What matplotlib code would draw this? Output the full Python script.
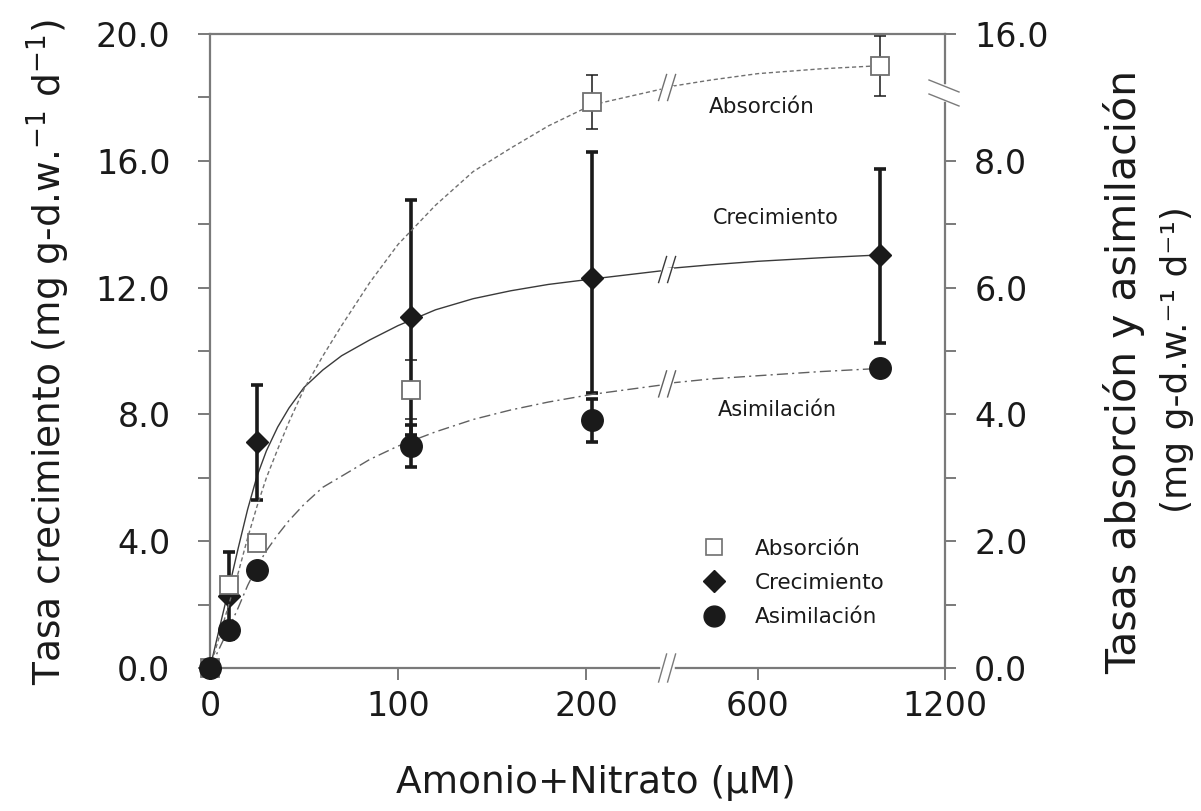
import numpy as np
import matplotlib
matplotlib.use("Agg")
import matplotlib.pyplot as plt
from matplotlib.lines import Line2D
from matplotlib.ticker import FixedLocator, FixedFormatter, FormatStrFormatter

# ---------------- data ----------------
conc = [0, 10, 25, 107, 203, 990]                       # Amonio+Nitrato (uM)
crecimiento = [0.0, 2.28, 7.14, 11.06, 12.29, 13.03]    # left axis
crec_err_lo = [0.0, 1.37, 1.85, 3.70, 3.60, 2.79]
crec_err_hi = [0.0, 1.37, 1.80, 3.70, 4.00, 2.71]
absorcion = [0.0, 1.31, 1.97, 4.39, 11.72, 13.98]       # right axis
absor_err = [0.0, 0.0, 0.0, 0.47, 1.70, 1.88]
asimilacion = [0.0, 0.60, 1.55, 3.50, 3.91, 4.73]       # right axis
asim_err = [0.0, 0.0, 0.0, 0.33, 0.34, 0.0]

# fitted curves
fit_x = [0, 5, 10, 15, 20, 25, 30, 36, 42, 50, 60, 70, 85, 100, 120, 140, 160, 180,
         203, 243, 310, 450, 600, 800, 990]
fit_crec = [0, 1.25, 2.5, 3.78, 5.0, 6.05, 6.85, 7.6, 8.2, 8.85, 9.4, 9.85, 10.35,
            10.8, 11.3, 11.65, 11.9, 12.1, 12.27, 12.55, 12.6, 12.72, 12.83, 12.94, 13.03]
fit_absor = [0, 0.5, 1.0, 1.5, 2.05, 2.55, 3.0, 3.45, 3.88, 4.4, 4.92, 5.4, 6.08, 6.68,
             7.3, 7.83, 8.8, 10.2, 11.52, 12.6, 12.66, 13.1, 13.5, 13.8, 14.0]
fit_asim = [0, 0.31, 0.625, 0.95, 1.3, 1.6, 1.85, 2.1, 2.325, 2.58, 2.85, 3.025, 3.29,
            3.5, 3.725, 3.92, 4.07, 4.195, 4.315, 4.475, 4.49, 4.56, 4.61, 4.675, 4.725]

x_ticks = [0, 100, 200, 600, 1200]
x_ticklabels = ["0", "100", "200", "600", "1200"]
left_ticks = [0, 4, 8, 12, 16, 20]
left_minor = [2, 6, 10, 14, 18]
right_ticks = [0, 2, 4, 6, 8, 16]
right_minor = [1, 3, 5, 7]

# ---------------- broken scales ----------------
B1, B2, U2 = 243.0, 310.0, 243.4
S2 = (391.0 - U2) / (1200.0 - B2)


def fx(x):
    x = np.asarray(x, dtype=float)
    return np.where(x <= B1, x,
                    np.where(x < B2, B1 + (x - B1) * (U2 - B1) / (B2 - B1),
                             U2 + (x - B2) * S2))


def fx_inv(u):
    u = np.asarray(u, dtype=float)
    return np.where(u <= B1, u,
                    np.where(u < U2, B1 + (u - B1) * (B2 - B1) / (U2 - B1),
                             B2 + (u - U2) / S2))


def r2u(r):
    r = np.asarray(r, dtype=float)
    return np.where(r <= 8, 2 * r, 16 + (r - 8) * 0.5)


def u2r(u):
    u = np.asarray(u, dtype=float)
    return np.where(u <= 16, u / 2, 8 + (u - 16) * 2)


W, H = 1201, 811
fig = plt.figure(figsize=(W / 100, H / 100), dpi=100)
ax = fig.add_axes([210 / W, 1 - 668 / H, 735 / W, 634 / H])
ax2 = ax.twinx()
ax.set_xscale("function", functions=(fx, fx_inv))
ax.set_xlim(0, 1200)
ax.set_ylim(0, 20)
ax2.set_yscale("function", functions=(r2u, u2r))
ax2.set_ylim(0, 16)

gray = "#7a7a7a"
ink = "#1a1a1a"

for s in ["left", "top", "bottom"]:
    ax.spines[s].set_color(gray)
    ax.spines[s].set_linewidth(1.6)
ax.spines["right"].set_visible(False)
for s in ["left", "top", "bottom"]:
    ax2.spines[s].set_visible(False)
ax2.spines["right"].set_color(gray)
ax2.spines["right"].set_linewidth(1.6)

ax.xaxis.set_major_locator(FixedLocator(x_ticks))
ax.xaxis.set_major_formatter(FixedFormatter(x_ticklabels))
ax.xaxis.set_minor_locator(FixedLocator([]))
ax.yaxis.set_major_locator(FixedLocator(left_ticks))
ax.yaxis.set_minor_locator(FixedLocator(left_minor))
ax.yaxis.set_major_formatter(FormatStrFormatter("%.1f"))
ax2.yaxis.set_major_locator(FixedLocator(right_ticks))
ax2.yaxis.set_minor_locator(FixedLocator(right_minor))
ax2.yaxis.set_major_formatter(FormatStrFormatter("%.1f"))

ax.tick_params(axis="y", which="both", direction="out", length=8.5, width=1.4,
               color=gray, labelsize=24, pad=20, labelcolor=ink)
ax.tick_params(axis="x", which="both", direction="out", length=8.5, width=1.4,
               color=gray, labelsize=24, pad=7, labelcolor=ink)
ax2.tick_params(axis="y", which="both", direction="out", length=8, width=1.4,
                color=gray, labelsize=24, pad=13, labelcolor=ink)

# ---------------- curves ----------------
ax.plot(fit_x, fit_crec, color="#3a3a3a", lw=1.0, zorder=2)
ax2.plot(fit_x, fit_absor, color="#707070", lw=1.0, dashes=(3, 2), zorder=2)
ax2.plot(fit_x, fit_asim, color="#606060", lw=1.0, dashes=(8, 3, 1.5, 3), zorder=2)

# ---------------- error bars ----------------
idx = [i for i in range(len(conc)) if crec_err_hi[i] > 0]
ax.errorbar([conc[i] for i in idx], [crecimiento[i] for i in idx],
            yerr=[[crec_err_lo[i] for i in idx], [crec_err_hi[i] for i in idx]],
            fmt="none", ecolor=ink, elinewidth=2.6, capsize=4.5, capthick=2.6, zorder=3)
idx = [i for i in range(len(conc)) if absor_err[i] > 0]
ax2.errorbar([conc[i] for i in idx], [absorcion[i] for i in idx],
             yerr=[absor_err[i] for i in idx],
             fmt="none", ecolor=ink, elinewidth=1.1, capsize=4, capthick=1.1, zorder=3)
idx = [i for i in range(len(conc)) if asim_err[i] > 0]
ax2.errorbar([conc[i] for i in idx], [asimilacion[i] for i in idx],
             yerr=[asim_err[i] for i in idx],
             fmt="none", ecolor=ink, elinewidth=2.6, capsize=4.5, capthick=2.6, zorder=3)

# ---------------- markers ----------------
ax.plot(conc, crecimiento, ls="none", marker="D", ms=11.5, mfc=ink, mec=ink,
        zorder=4, clip_on=False)
ax2.plot(conc, absorcion, ls="none", marker="s", ms=13, mfc="white", mec="#707070",
         mew=1.3, zorder=4, clip_on=False)
ax2.plot(conc, asimilacion, ls="none", marker="o", ms=15.5, mfc=ink, mec=ink,
         zorder=5, clip_on=False)

# ---------------- break marks ----------------
def to_fig(a, x, y):
    d = a.transData.transform((x, y))
    return fig.transFigure.inverted().transform(d)


def xbreak(a, y, color, gapw=4, lw=1.0, h=12):
    cx, cy = to_fig(a, 270, y)
    sep = 9
    fig.add_artist(Line2D([cx - sep / 2 / W, cx + sep / 2 / W], [cy, cy],
                          color="white", lw=gapw, zorder=10, transform=fig.transFigure))
    for off in (-sep / 2, sep / 2):
        x0 = cx + (off - 4) / W
        x1 = cx + (off + 4) / W
        fig.add_artist(Line2D([x0, x1], [cy - h / H, cy + h / H], color=color, lw=lw,
                              zorder=11, transform=fig.transFigure))


xbreak(ax, 0, gray, gapw=4, lw=1.0, h=14)
xbreak(ax, np.interp(270, fit_x, fit_crec), "#3a3a3a", gapw=3, lw=1.0, h=13)
xbreak(ax2, np.interp(270, fit_x, fit_absor), "#707070", gapw=3, lw=1.0, h=13)
xbreak(ax2, np.interp(270, fit_x, fit_asim), "#606060", gapw=3, lw=1.0, h=13)

# right-axis break
cx, cy = to_fig(ax2, 1200, 14.0)
cy = 1 - 93 / H
fig.add_artist(Line2D([cx, cx], [cy - 6 / H, cy + 6 / H], color="white", lw=4,
                      zorder=10, transform=fig.transFigure))
for off in (-7, 7):
    fig.add_artist(Line2D([cx - 16 / W, cx + 14 / W],
                          [cy + (off + 6) / H, cy + (off - 6) / H],
                          color=gray, lw=1.0, zorder=11, transform=fig.transFigure))

# ---------------- texts ----------------
fig.text(762 / W, 1 - 107 / H, "Absorción", fontsize=15.5, ha="center", va="center", color=ink)
fig.text(776 / W, 1 - 218 / H, "Crecimiento", fontsize=15, ha="center", va="center", color=ink)
fig.text(777 / W, 1 - 410 / H, "Asimilación", fontsize=15, ha="center", va="center", color=ink)

fig.text(596 / W, 1 - 783 / H, "Amonio+Nitrato (μM)", fontsize=27, ha="center",
         va="center", color=ink)
fig.text(48 / W, 1 - 352 / H, "Tasa crecimiento (mg g-d.w.$^{-1}$ d$^{-1}$)", fontsize=27,
         rotation=90, ha="center", va="center", color=ink)
fig.text(1124 / W, 1 - 372 / H, "Tasas absorción y asimilación", fontsize=29.5,
         rotation=90, ha="center", va="center", color=ink)
fig.text(1177 / W, 1 - 360 / H, "(mg g-d.w.⁻¹ d⁻¹)", fontsize=26,
         rotation=90, ha="center", va="center", color=ink)

# ---------------- legend ----------------
handles = [
    Line2D([], [], ls="none", marker="s", ms=11, mfc="white", mec="#707070", mew=1.2),
    Line2D([], [], ls="none", marker="D", ms=11, mfc=ink, mec=ink),
    Line2D([], [], ls="none", marker="o", ms=15, mfc=ink, mec=ink),
]
leg = ax2.legend(handles, ["Absorción", "Crecimiento", "Asimilación"],
                 loc="upper left", bbox_to_anchor=(690 / W, 1 - 528 / H),
                 bbox_transform=fig.transFigure, frameon=False, fontsize=15.5,
                 handletextpad=1.3, labelspacing=0.66, borderpad=0, handlelength=1.2)
for t in leg.get_texts():
    t.set_color(ink)

fig.savefig("out.png", dpi=100)
